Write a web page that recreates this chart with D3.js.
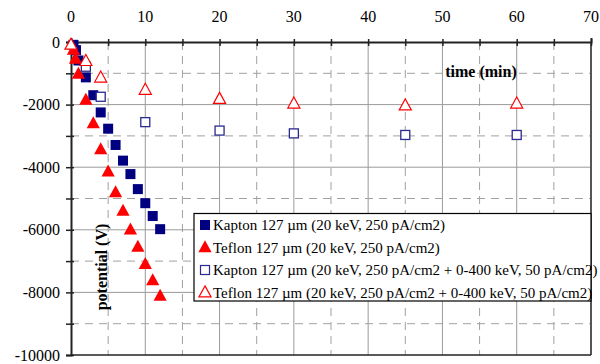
<!DOCTYPE html>
<html><head><meta charset="utf-8">
<script src="https://cdn.jsdelivr.net/npm/d3@7"></script>
<style>body{margin:0;background:#fff}svg{display:block}</style>
</head><body>
<svg id="c" width="600" height="364"></svg>
<script>
const xTicks = [0,10,20,30,40,50,60,70];
const yTicks = [0,-2000,-4000,-6000,-8000,-10000];
const kaptonT = [0.33,0.67,1,2,3,4,5,6,7,8,9,10,11,12];
const kaptonV = [-90,-260,-590,-1130,-1700,-2250,-2770,-3290,-3790,-4220,-4700,-5150,-5560,-5980];
const teflonT = [0.33,0.6,1,2,3,4,5,6,7,8,9,10,11,12];
const teflonV = [-250,-540,-1020,-1850,-2600,-3430,-4140,-4810,-5400,-6000,-6550,-7100,-7620,-8110];
const kaptonBT = [2,4,10,20,30,45,60];
const kaptonBV = [-790,-1750,-2560,-2830,-2920,-2970,-2970];
const teflonBT = [0,2,4,10,20,30,45,60];
const teflonBV = [-90,-610,-1140,-1530,-1820,-1970,-2030,-1970];
const legendLabels = [
  "Kapton 127 µm (20 keV, 250 pA/cm2)",
  "Teflon 127 µm (20 keV, 250 pA/cm2)",
  "Kapton 127 µm (20 keV, 250 pA/cm2 + 0-400 keV, 50 pA/cm2)",
  "Teflon 127 µm (20 keV, 250 pA/cm2 + 0-400 keV, 50 pA/cm2)"
];

const svg = d3.select("#c");
const font = "'Liberation Serif','Times New Roman',serif";
const x = d3.scaleLinear().domain([0,70]).range([71,591]);
const y = d3.scaleLinear().domain([0,-10000]).range([42,355]);

// grid
const g = svg.append("g");
d3.range(5,70,5).forEach(v=>{
  const major = v%10===0;
  g.append("line").attr("x1",x(v)).attr("x2",x(v)).attr("y1",y(0)).attr("y2",y(-10000))
   .attr("stroke",major?"#9a9a9a":"#a0a0a0").attr("stroke-width",1)
   .attr("stroke-dasharray",major?null:"8,6");
});
d3.range(-1000,-10000,-1000).forEach(v=>{
  const major = v%2000===0;
  g.append("line").attr("x1",x(0)).attr("x2",x(70)).attr("y1",y(v)).attr("y2",y(v))
   .attr("stroke",major?"#9a9a9a":"#a0a0a0").attr("stroke-width",1)
   .attr("stroke-dasharray",major?null:"8,6");
});
// right border & bottom
svg.append("line").attr("x1",x(70)).attr("x2",x(70)).attr("y1",y(0)).attr("y2",y(-10000)).attr("stroke","#555").attr("stroke-width",2);
svg.append("line").attr("x1",x(0)).attr("x2",x(70)).attr("y1",y(-10000)).attr("y2",y(-10000)).attr("stroke","#222").attr("stroke-width",1.5);

// top axis
const xAxis = d3.axisTop(x).tickValues(d3.range(0,75,5)).tickSize(4).tickFormat("");
const gx = svg.append("g").attr("transform",`translate(0,${y(0)})`).call(xAxis);
gx.select(".domain").attr("stroke","#222").attr("stroke-width",2);
gx.selectAll(".tick line").attr("stroke","#222").attr("stroke-width",1.5).attr("y2",-3).attr("y1",4);
svg.append("g").selectAll("text").data(xTicks).join("text")
  .attr("x",d=>x(d)).attr("y",22).attr("text-anchor","middle")
  .attr("font-family",font).attr("font-size",16).text(d=>d);

// left axis
const yAxis = d3.axisLeft(y).tickValues(d3.range(0,-10001,-1000)).tickSize(5).tickFormat("");
const gy = svg.append("g").attr("transform",`translate(${x(0)},0)`).call(yAxis);
gy.select(".domain").attr("stroke","#222").attr("stroke-width",2);
gy.selectAll(".tick line").attr("stroke","#222").attr("stroke-width",1.5).attr("x1",3);
svg.append("g").selectAll("text").data(yTicks).join("text")
  .attr("x",60).attr("y",d=>y(d)).attr("dy","0.35em").attr("text-anchor","end")
  .attr("font-family",font).attr("font-size",16).text(d=>d);

// titles
svg.append("text").attr("x",481).attr("y",77).attr("text-anchor","middle")
  .attr("font-family",font).attr("font-size",16).attr("font-weight","bold").text("time (min)");
svg.append("text").attr("transform","translate(107,267) rotate(-90)").attr("text-anchor","middle")
  .attr("font-family",font).attr("font-size",16).attr("font-weight","bold").text("potential (V)");

// markers
const tri = (s)=>`M0,${-s*0.6}L${s*0.55},${s*0.4}L${-s*0.55},${s*0.4}Z`;
const pts = svg.append("g");
pts.selectAll(".ks").data(kaptonT.map((t,i)=>[t,kaptonV[i]])).join("rect")
  .attr("x",d=>x(d[0])-5).attr("y",d=>y(d[1])-5).attr("width",10).attr("height",10).attr("fill","#000080");
pts.selectAll(".tf").data(teflonT.map((t,i)=>[t,teflonV[i]])).join("path")
  .attr("d",tri(12)).attr("transform",d=>`translate(${x(d[0])},${y(d[1])})`).attr("fill","#ff0000");
pts.selectAll(".ko").data(kaptonBT.map((t,i)=>[t,kaptonBV[i]])).join("rect")
  .attr("x",d=>x(d[0])-4.5).attr("y",d=>y(d[1])-4.5).attr("width",9).attr("height",9)
  .attr("fill","#fff").attr("stroke","#2a2a90").attr("stroke-width",1.3);
pts.selectAll(".to").data(teflonBT.map((t,i)=>[t,teflonBV[i]])).join("path")
  .attr("d",tri(11)).attr("transform",d=>`translate(${x(d[0])},${y(d[1])})`)
  .attr("fill","#fff").attr("stroke","#ff0000").attr("stroke-width",1.2);

// legend
const lg = svg.append("g");
lg.append("rect").attr("x",194).attr("y",213.5).attr("width",397).attr("height",87.5)
  .attr("fill","#fff").attr("stroke","#000").attr("stroke-width",1.2);
const rowY = i => 225 + i*22.5;
legendLabels.forEach((lab,i)=>{
  const cx = 205, cy = rowY(i);
  if(i===0) lg.append("rect").attr("x",cx-5).attr("y",cy-5).attr("width",10).attr("height",10).attr("fill","#000080");
  if(i===1) lg.append("path").attr("d",tri(12)).attr("transform",`translate(${cx},${cy})`).attr("fill","#ff0000");
  if(i===2) lg.append("rect").attr("x",cx-4.5).attr("y",cy-4.5).attr("width",9).attr("height",9).attr("fill","#fff").attr("stroke","#2a2a90").attr("stroke-width",1.2);
  if(i===3) lg.append("path").attr("d",tri(11)).attr("transform",`translate(${cx},${cy})`).attr("fill","#fff").attr("stroke","#ff0000").attr("stroke-width",1.2);
  lg.append("text").attr("x",213).attr("y",cy).attr("dy","0.35em")
    .attr("font-family",font).attr("font-size",15).text(lab);
});
</script>
</body></html>
